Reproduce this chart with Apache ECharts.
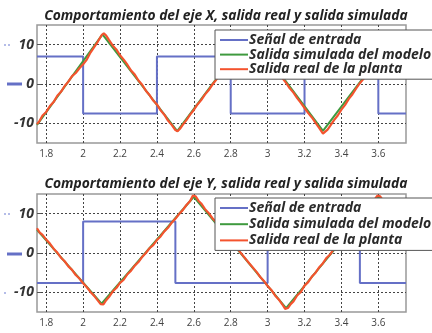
<!DOCTYPE html>
<html>
<head>
<meta charset="utf-8">
<script src="https://cdn.jsdelivr.net/npm/echarts@6/dist/echarts.min.js"></script>
<style>
html,body{margin:0;padding:0;background:#fff;}
#c{width:432px;height:333px;}
</style>
</head>
<body>
<div id="c"></div>
<script>
const titles = ['Comportamiento del eje X, salida real y salida simulada',
                'Comportamiento del eje Y, salida real y salida simulada'];
const seriesNames = ['Señal de entrada', 'Salida simulada del modelo', 'Salida real de la planta'];
const xTicks = [1.8, 2, 2.2, 2.4, 2.6, 2.8, 3, 3.2, 3.4, 3.6];
const yTicks = [-10, 0, 10];
const xRange = [1.75, 3.75];
const yRange = [-15, 15];

// input signal (step changes, value held until next point)
const inputX = [[1.75,7],[2.0,-7.5],[2.4,7],[2.8,-7.5],[3.2,7],[3.6,-7.5],[3.75,-7.5]];
const inputY = [[1.75,-7.6],[2.0,8.0],[2.5,-7.6],[3.0,8.0],[3.5,-7.6],[3.75,-7.6]];

// simulated model output
const simX = [[1.75,-10.4],[2.105,12.6],[2.51,-12.0],[2.905,12.8],[3.3,-11.9],[3.7,12.8],[3.75,9.6]];
const simY = [[1.75,5.9],[2.1,-12.9],[2.6,14.3],[3.1,-14.0],[3.6,14.4],[3.75,5.8]];

// real plant output (noisy)
const realX = [[1.75,-10.2],[1.765,-9.3],[1.78,-8.0],[1.8,-7.1],[1.82,-5.6],[1.84,-4.6],[1.86,-3.0],[1.88,-2.0],[1.9,-0.5],[1.92,0.6],[1.94,2.0],[1.96,2.8],[1.98,4.0],[2.0,5.0],[2.02,6.2],[2.04,8.0],[2.06,9.4],[2.08,10.8],[2.1,12.4],[2.112,12.9],[2.125,12.3],[2.14,11.2],[2.16,9.8],[2.18,8.8],[2.2,7.3],[2.22,6.2],[2.24,4.9],[2.26,3.4],[2.28,2.4],[2.3,0.9],[2.32,-0.2],[2.34,-1.7],[2.36,-2.8],[2.38,-4.2],[2.4,-5.2],[2.42,-6.7],[2.44,-7.8],[2.46,-9.3],[2.48,-10.4],[2.5,-11.7],[2.512,-12.0],[2.525,-11.4],[2.54,-10.4],[2.56,-9.2],[2.58,-7.8],[2.6,-6.6],[2.62,-5.2],[2.64,-4.1],[2.66,-2.7],[2.68,-1.6],[2.7,-0.2],[2.72,1.0],[2.75,2.9],[2.8,6.2],[2.85,9.3],[2.9,12.5],[2.91,12.8],[2.95,10.1],[3.0,6.9],[3.05,3.6],[3.08,1.5],[3.1,0.3],[3.12,-1.1],[3.14,-2.2],[3.16,-3.6],[3.18,-4.8],[3.2,-6.1],[3.22,-7.4],[3.24,-8.5],[3.26,-9.9],[3.28,-11.2],[3.3,-12.6],[3.31,-12.7],[3.325,-11.6],[3.34,-10.6],[3.36,-9.2],[3.38,-8.0],[3.4,-6.5],[3.42,-5.3],[3.44,-3.8],[3.46,-2.6],[3.48,-1.1],[3.5,0.2],[3.52,1.3],[3.55,3.4],[3.6,6.6],[3.65,9.8],[3.7,12.9],[3.75,10.0]];
const realY = [[1.75,6.3],[1.765,5.2],[1.78,4.6],[1.8,3.4],[1.82,2.4],[1.84,1.1],[1.86,0.1],[1.88,-1.2],[1.9,-2.1],[1.92,-3.4],[1.94,-4.3],[1.96,-5.6],[1.98,-6.5],[2.0,-7.7],[2.02,-8.7],[2.04,-9.9],[2.06,-10.9],[2.08,-12.1],[2.095,-13.0],[2.11,-13.1],[2.125,-12.0],[2.14,-11.2],[2.16,-9.8],[2.18,-8.9],[2.2,-7.6],[2.22,-6.8],[2.24,-5.4],[2.26,-4.5],[2.28,-3.2],[2.3,-2.3],[2.32,-1.0],[2.34,0.0],[2.36,1.2],[2.38,2.0],[2.4,3.3],[2.42,4.2],[2.44,5.5],[2.46,6.4],[2.48,7.7],[2.5,8.7],[2.52,9.9],[2.54,10.9],[2.56,12.2],[2.58,13.2],[2.595,14.6],[2.61,14.4],[2.625,13.3],[2.64,12.6],[2.66,11.2],[2.68,10.2],[2.7,8.9],[2.72,7.9],[2.75,6.1],[2.8,3.2],[2.85,0.3],[2.9,-2.6],[2.94,-4.8],[2.96,-6.1],[2.98,-7.1],[3.0,-8.4],[3.02,-9.4],[3.04,-10.8],[3.06,-11.8],[3.08,-13.1],[3.095,-14.2],[3.11,-14.0],[3.125,-13.0],[3.14,-12.3],[3.16,-10.8],[3.18,-9.9],[3.2,-8.3],[3.22,-7.4],[3.24,-6.0],[3.26,-5.0],[3.28,-3.6],[3.3,-2.6],[3.32,-1.2],[3.34,-0.3],[3.36,1.1],[3.4,3.2],[3.45,6.0],[3.5,8.9],[3.55,11.7],[3.595,14.6],[3.61,14.4],[3.65,11.7],[3.7,8.9],[3.75,6.0]];

const colors = ['#6570c6', '#3f9a3f', '#f4532e'];
const FONT = '"Open Sans", Lato, "DejaVu Sans", sans-serif';

function xAxisFor(gi) {
  return {
    type: 'value', gridIndex: gi, min: xRange[0], max: xRange[1],
    axisLine: {show: false},
    axisTick: {show: true, inside: true, length: 4, customValues: xTicks, lineStyle: {color: '#555'}},
    axisLabel: {customValues: xTicks, color: '#444', fontSize: 10, fontFamily: FONT, margin: 6,
                formatter: v => String(Math.round(v * 10) / 10)},
    splitLine: {show: true, lineStyle: {color: '#444', type: [2, 2], width: 1}}
  };
}
function yAxisFor(gi) {
  return {
    type: 'value', gridIndex: gi, min: yRange[0], max: yRange[1],
    axisLine: {show: false},
    axisTick: {show: true, inside: true, length: 4, customValues: yTicks, lineStyle: {color: '#555'}},
    axisLabel: {customValues: yTicks, color: '#333', fontSize: 14, fontWeight: 'bold', fontStyle: 'italic',
                fontFamily: FONT, margin: 3},
    splitLine: {show: true, lineStyle: {color: '#444', type: [2, 2], width: 1}}
  };
}
function legendFor(top, gap) {
  return {
    orient: 'vertical', left: 215, top: top, data: seriesNames, z: 20,
    icon: 'rect', itemWidth: 28, itemHeight: 2, itemGap: gap,
    padding: [3, 3, 3, 5],
    backgroundColor: '#fff', borderColor: '#555', borderWidth: 1,
    selectedMode: false,
    textStyle: {fontSize: 14, fontWeight: 'bold', fontStyle: 'italic', fontFamily: FONT, color: '#2a2a2a',
                padding: [0, 0, 0, -4], lineHeight: 14}
  };
}
function lineSeries(name, data, gi, color, width, step, z) {
  const s = {
    name: name, type: 'line', xAxisIndex: gi, yAxisIndex: gi, data: data,
    showSymbol: false, symbol: 'none', animation: false, z: z,
    lineStyle: {color: color, width: width}, itemStyle: {color: color}
  };
  if (step) s.step = 'end';
  return s;
}

const chart = echarts.init(document.getElementById('c'), null, {renderer: 'canvas'});
chart.setOption({
  animation: false,
  color: colors,
  title: [
    {text: titles[0], left: 221, top: 4, textAlign: 'center',
     textStyle: {fontSize: 13.8, fontWeight: 'bold', fontStyle: 'italic', fontFamily: FONT, color: '#222'}},
    {text: titles[1], left: 221, top: 172, textAlign: 'center',
     textStyle: {fontSize: 13.8, fontWeight: 'bold', fontStyle: 'italic', fontFamily: FONT, color: '#222'}}
  ],
  grid: [
    {left: 37, top: 25, width: 369, height: 118, show: true, borderColor: '#999', borderWidth: 1.5, backgroundColor: 'transparent'},
    {left: 37, top: 194, width: 369, height: 118, show: true, borderColor: '#999', borderWidth: 1.5, backgroundColor: 'transparent'}
  ],
  xAxis: [xAxisFor(0), xAxisFor(1)],
  yAxis: [yAxisFor(0), yAxisFor(1)],
  legend: [legendFor(30, 0.6), legendFor(198, 2.2)],
  series: [
    lineSeries(seriesNames[0], inputX, 0, colors[0], 2, true, 2),
    lineSeries(seriesNames[1], simX, 0, colors[1], 2, false, 3),
    lineSeries(seriesNames[2], realX, 0, colors[2], 2.2, false, 4),
    lineSeries(seriesNames[0], inputY, 1, colors[0], 2, true, 2),
    lineSeries(seriesNames[1], simY, 1, colors[1], 2, false, 3),
    lineSeries(seriesNames[2], realY, 1, colors[2], 2.2, false, 4)
  ],
  graphic: [
    {type: 'line', shape: {x1: 4, y1: 45, x2: 12, y2: 45}, style: {stroke: '#b4bce8', lineWidth: 2, lineDash: [2, 2]}},
    {type: 'line', shape: {x1: 7, y1: 84, x2: 22, y2: 84}, style: {stroke: '#6570c6', lineWidth: 3}},
    {type: 'line', shape: {x1: 4, y1: 214, x2: 12, y2: 214}, style: {stroke: '#b4bce8', lineWidth: 2, lineDash: [2, 2]}},
    {type: 'line', shape: {x1: 7, y1: 254, x2: 22, y2: 254}, style: {stroke: '#6570c6', lineWidth: 3}},
    {type: 'line', shape: {x1: 4, y1: 293, x2: 8, y2: 293}, style: {stroke: '#b4bce8', lineWidth: 2, lineDash: [2, 2]}}
  ]
});
</script>
</body>
</html>
